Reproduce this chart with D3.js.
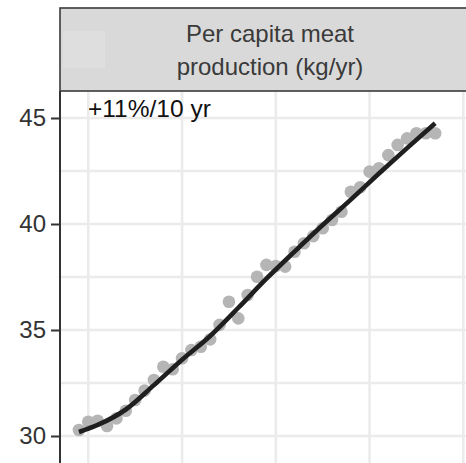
<!DOCTYPE html>
<html>
<head>
<meta charset="utf-8">
<script src="https://cdn.jsdelivr.net/npm/d3@7"></script>
<style>
  body { margin: 0; background: #fff; }
  svg { display: block; font-family: "Liberation Sans", Arial, sans-serif; }
</style>
</head>
<body>
<div id="chart"></div>
<script>
// yearly values
var years = d3.range(1979, 2018);
var meat = [30.28, 30.67, 30.72, 30.47, 30.83, 31.19, 31.70, 32.14, 32.64, 33.27,
            33.15, 33.67, 34.06, 34.21, 34.56, 35.24, 36.33, 35.55, 36.65, 37.51,
            38.07, 38.02, 37.99, 38.69, 39.09, 39.43, 39.80, 40.19, 40.58, 41.52,
            41.73, 42.47, 42.63, 43.25, 43.73, 44.04, 44.28, 44.28, 44.28];
// fitted trend line
var fitYears = [1979, 1981, 1984, 1987, 1990, 1993, 1996, 1999, 2002, 2005, 2008, 2011, 2014, 2017];
var fitVals  = [30.19, 30.52, 31.25, 32.4, 33.6, 34.72, 36.05, 37.42, 38.7, 39.95, 41.15, 42.38, 43.58, 44.75];
var yTicks = [30, 35, 40, 45];
var yGrid = [30, 32.5, 35, 37.5, 40, 42.5, 45];
var xGrid = [1980, 1990, 2000, 2010, 2020];
var stripLines = ["Per capita meat", "production (kg/yr)"];
var note = "+11%/10 yr";

var W = 466, H = 463;
var panel = {left: 60, right: 480, top: 91, bottom: 480};

var svg = d3.select("#chart").append("svg")
  .attr("width", W).attr("height", H);

var x = d3.scaleLinear().domain([1980, 2020]).range([88.3, 463.3]);
var y = d3.scaleLinear().domain([30, 45]).range([436, 118]);

// panel background
svg.append("rect")
  .attr("x", panel.left).attr("y", panel.top)
  .attr("width", panel.right - panel.left).attr("height", panel.bottom - panel.top)
  .attr("fill", "#fff");

// grid
svg.append("g").selectAll("line").data(yGrid).join("line")
  .attr("x1", panel.left).attr("x2", panel.right)
  .attr("y1", d => y(d)).attr("y2", d => y(d))
  .attr("stroke", "#ebebeb").attr("stroke-width", 2.6);
svg.append("g").selectAll("line").data(xGrid).join("line")
  .attr("x1", d => x(d)).attr("x2", d => x(d))
  .attr("y1", panel.top).attr("y2", panel.bottom)
  .attr("stroke", "#ebebeb").attr("stroke-width", 2.6);

// points
svg.append("g").selectAll("circle").data(years).join("circle")
  .attr("cx", d => x(d))
  .attr("cy", (d, i) => y(meat[i]))
  .attr("r", 6.3)
  .attr("fill", "#b5b5b5");

// trend line
svg.append("path")
  .datum(fitYears)
  .attr("fill", "none")
  .attr("stroke", "#1f1f1f")
  .attr("stroke-width", 4.6)
  .attr("d", d3.line()
    .x(d => x(d))
    .y((d, i) => y(fitVals[i]))
    .curve(d3.curveMonotoneX));

// annotation
svg.append("text")
  .attr("x", 88).attr("y", 117)
  .attr("font-size", 24.5)
  .attr("fill", "#111")
  .text(note);

// y axis
var yAxis = svg.append("g")
  .attr("transform", "translate(" + panel.left + ",0)")
  .call(d3.axisLeft(y).tickValues(yTicks).tickSize(9).tickPadding(5));
yAxis.select(".domain").remove();
yAxis.selectAll(".tick line").attr("stroke", "#333").attr("stroke-width", 2);
yAxis.selectAll(".tick text")
  .attr("font-size", 24)
  .attr("fill", "#333")
  .attr("font-family", "Liberation Sans, Arial, sans-serif");
svg.append("line")
  .attr("x1", panel.left).attr("x2", panel.left)
  .attr("y1", panel.top).attr("y2", H)
  .attr("stroke", "#333").attr("stroke-width", 2);

// strip
svg.append("rect")
  .attr("x", panel.left).attr("y", 8)
  .attr("width", panel.right - panel.left).attr("height", panel.top - 8)
  .attr("fill", "#d9d9d9")
  .attr("stroke", "#3a3a3a").attr("stroke-width", 1.6);
svg.append("rect")
  .attr("x", 63).attr("y", 31).attr("width", 42).attr("height", 37)
  .attr("fill", "#dedede");
svg.append("g").selectAll("text").data(stripLines).join("text")
  .attr("x", 270)
  .attr("y", (d, i) => 42 + i * 33)
  .attr("text-anchor", "middle")
  .attr("font-size", 24)
  .attr("fill", "#3a3a3a")
  .text(d => d);
</script>
</body>
</html>
